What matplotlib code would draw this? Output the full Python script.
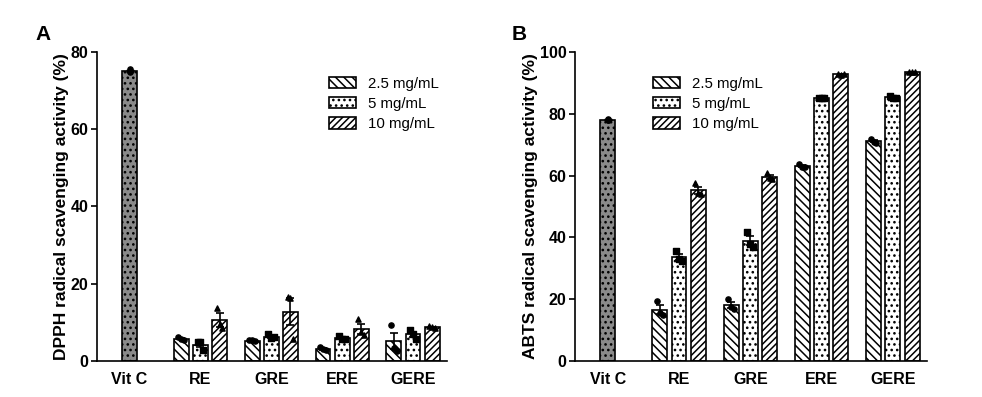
import matplotlib.pyplot as plt
import numpy as np

plt.rcParams["font.family"] = ["Liberation Sans", "DejaVu Sans"]
plt.rcParams["hatch.linewidth"] = 1.1

groups = ["Vit C", "RE", "GRE", "ERE", "GERE"]
extracts = ["RE", "GRE", "ERE", "GERE"]
conc_labels = ["2.5 mg/mL", "5 mg/mL", "10 mg/mL"]

# DPPH (panel A): means, SEM, individual replicates
dpph_vitc = 75.1
dpph_vitc_sem = 0.2
dpph_vitc_pts = [75.5, 74.9, 75.0]
dpph_25 = [5.8, 5.3, 3.1, 5.1]
dpph_5 = [4.2, 6.3, 6.0, 6.9]
dpph_10 = [10.6, 12.8, 8.4, 8.7]
dpph_25_sem = [0.2, 0.1, 0.2, 2.1]
dpph_5_sem = [0.7, 0.3, 0.3, 0.6]
dpph_10_sem = [1.8, 3.6, 1.3, 0.2]
dpph_25_pts = [[6.1, 5.8, 5.5], [5.4, 5.5, 5.1], [3.5, 3.0, 2.8], [9.2, 3.4, 2.6]]
dpph_5_pts = [[5.0, 4.9, 2.9], [6.9, 6.0, 6.2], [6.5, 5.8, 5.7], [8.0, 7.0, 5.8]]
dpph_10_pts = [[13.8, 9.5, 8.6], [16.5, 16.3, 5.6], [11.0, 7.5, 6.7], [9.0, 8.7, 8.5]]

# ABTS (panel B)
abts_vitc = 78.1
abts_vitc_sem = 0.1
abts_vitc_pts = [78.3, 78.0, 78.1]
abts_25 = [16.6, 18.1, 63.1, 71.1]
abts_5 = [33.7, 38.9, 85.1, 85.4]
abts_10 = [55.3, 59.6, 92.8, 93.5]
abts_25_sem = [1.5, 1.1, 0.3, 0.3]
abts_5_sem = [0.9, 1.4, 0.1, 0.3]
abts_10_sem = [1.1, 0.6, 0.1, 0.1]
abts_25_pts = [[19.5, 15.5, 14.8], [20.2, 17.5, 16.7], [63.8, 62.9, 62.7], [71.8, 70.9, 70.7]]
abts_5_pts = [[35.5, 33.0, 32.5], [41.8, 38.0, 37.0], [85.2, 85.0, 85.0], [85.9, 85.2, 85.1]]
abts_10_pts = [[57.5, 54.5, 54.0], [60.8, 59.2, 58.9], [92.9, 92.7, 92.8], [93.6, 93.4, 93.5]]

hatches = ["\\\\\\\\", "...", "/////"]
markers = ["o", "s", "^"]
width = 0.21
offsets = [-0.27, 0.0, 0.27]


def draw_panel(ax, vitc, vitc_sem, vitc_pts, means, sems, pts, ylim, ylabel, legend_anchor):
    ax.bar(0, vitc, width, color="#8a8a8a", edgecolor="black", hatch="...", linewidth=1.2, zorder=2)
    ax.errorbar(0, vitc, yerr=vitc_sem, color="black", capsize=3, lw=1, zorder=3)
    ax.scatter([0, 0, 0], vitc_pts, s=14, color="black", marker="o", zorder=4)
    x = np.arange(1, len(extracts) + 1)
    for i in range(3):
        ax.bar(x + offsets[i], means[i], width, color="white", edgecolor="black",
               hatch=hatches[i], linewidth=1.2, label=conc_labels[i], zorder=2)
        ax.errorbar(x + offsets[i], means[i], yerr=sems[i], fmt="none", ecolor="black",
                    capsize=3, elinewidth=1.2, capthick=1.2, zorder=3)
        for j, p in enumerate(pts[i]):
            ax.scatter(np.full(3, x[j] + offsets[i]) + np.array([-0.04, 0.0, 0.04]), p,
                       s=14, color="black", marker=markers[i], zorder=4)
    ax.set_xlim(-0.46, 4.48)
    ax.set_ylim(*ylim)
    ax.set_xticks(range(len(groups)))
    ax.set_xticklabels(groups, fontweight="bold", fontsize=11.5)
    ax.tick_params(axis="x", length=0, pad=8)
    ax.tick_params(axis="y", labelsize=11.5, width=1.2, length=4, pad=2)
    ax.set_ylabel(ylabel, fontweight="bold", fontsize=12.5, labelpad=1)
    for s in ["left", "bottom"]:
        ax.spines[s].set_linewidth(1.2)
    ax.spines["top"].set_visible(False)
    ax.spines["right"].set_visible(False)
    ax.legend(loc="upper left", bbox_to_anchor=legend_anchor, frameon=False, fontsize=10.8,
              handlelength=1.8, handleheight=0.8, labelspacing=0.42, handletextpad=0.8,
              borderaxespad=0)


fig = plt.figure(figsize=(9.82, 3.97), dpi=100)
ax1 = fig.add_axes([0.0988, 0.0907, 0.3564, 0.7783])
ax2 = fig.add_axes([0.5855, 0.0907, 0.3585, 0.7783])

draw_panel(ax1, dpph_vitc, dpph_vitc_sem, dpph_vitc_pts,
           [dpph_25, dpph_5, dpph_10], [dpph_25_sem, dpph_5_sem, dpph_10_sem],
           [dpph_25_pts, dpph_5_pts, dpph_10_pts],
           (0, 80), "DPPH radical scavenging activity (%)", (0.645, 0.94))
ax1.set_yticks([0, 20, 40, 60, 80])

draw_panel(ax2, abts_vitc, abts_vitc_sem, abts_vitc_pts,
           [abts_25, abts_5, abts_10], [abts_25_sem, abts_5_sem, abts_10_sem],
           [abts_25_pts, abts_5_pts, abts_10_pts],
           (0, 100), "ABTS radical scavenging activity (%)", (0.205, 0.94))
ax2.set_yticks([0, 20, 40, 60, 80, 100])
for lab in ax1.get_yticklabels() + ax2.get_yticklabels():
    lab.set_fontweight("bold")

fig.text(0.036, 0.9, "A", fontsize=15, fontweight="bold")
fig.text(0.521, 0.9, "B", fontsize=15, fontweight="bold")

plt.savefig("out.png", dpi=100)
